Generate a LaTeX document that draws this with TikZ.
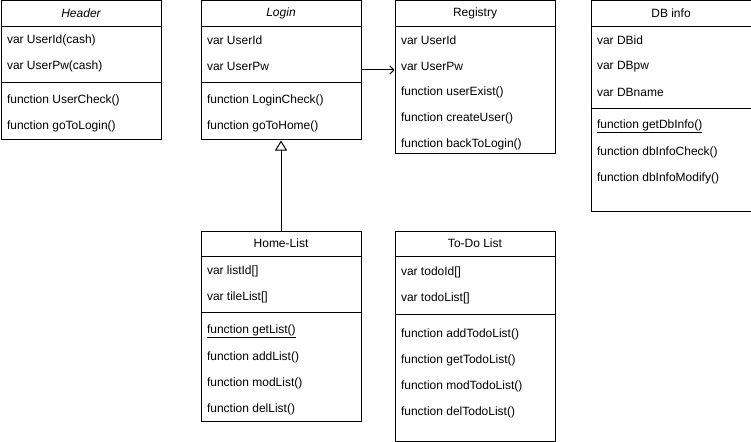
\documentclass[tikz,border=0pt]{standalone}
\usepackage{fontspec}
\setmainfont{Liberation Sans}
\usetikzlibrary{arrows.meta}
\usetikzlibrary{calc}

\tikzset{
  classbox/.style={draw, rectangle, anchor=north west, inner sep=0pt, minimum width=160pt},
  member/.style={anchor=west, inner sep=0pt},
  title/.style={inner sep=0pt}
}

\begin{document}
\begin{tikzpicture}[x=1pt,y=-1pt,line width=1pt,font=\fontsize{12}{14}\selectfont]
      \useasboundingbox (0,0) rectangle (751,441);

      % Header
      \node[classbox, minimum height=138pt] (header) at (0.5,0.5) {};
      \node[title] (headerT) at ($(header.north)+(0,13)$) {\itshape Header};
      \draw ($(header.north west)+(0,26)$) -- ($(header.north east)+(0,26)$);
      \draw ($(header.north west)+(0,82)$) -- ($(header.north east)+(0,82)$);
      \foreach \y/\t in {40/var UserId(cash),66/var UserPw(cash),100/function UserCheck(),126/function goToLogin()}
      {
        \node[member] (header\y) at ($(header.north west)+(6,\y)$) {\t};
      }

      % Login
      \node[classbox, minimum height=138pt] (login) at (200.5,0.5) {};
      \node[title] (loginT) at ($(login.north)+(0,13)$) {\itshape Login};
      \draw ($(login.north west)+(0,26)$) -- ($(login.north east)+(0,26)$);
      \draw ($(login.north west)+(0,82)$) -- ($(login.north east)+(0,82)$);
      \foreach \y/\t in {40/var UserId,66/var UserPw,100/function LoginCheck(),126/function goToHome()}
      {
        \node[member] (login\y) at ($(login.north west)+(6,\y)$) {\t};
      }

      % Registry
      \node[classbox, minimum height=152pt] (registry) at (394.5,0.5) {};
      \node[title] (registryT) at ($(registry.north)+(0,13)$) {Registry};
      \draw ($(registry.north west)+(0,26)$) -- ($(registry.north east)+(0,26)$);
      \foreach \y/\t in {40/var UserId,66/var UserPw,92/function userExist(),118/function createUser(),144/function backToLogin()}
      {
        \node[member] (registry\y) at ($(registry.north west)+(6,\y)$) {\t};
      }

      % DB info
      \node[classbox, minimum height=210pt] (dbinfo) at (590.5,0.5) {};
      \node[title] (dbinfoT) at ($(dbinfo.north)+(0,13)$) {DB info};
      \draw ($(dbinfo.north west)+(0,26)$) -- ($(dbinfo.north east)+(0,26)$);
      \draw ($(dbinfo.north west)+(0,108)$) -- ($(dbinfo.north east)+(0,108)$);
      \foreach \y/\t in {40/var DBid,66/var DBpw,92/var DBname,126/\underline{function getDbInfo()},152/function dbInfoCheck(),178/function dbInfoModify()}
      {
        \node[member] (dbinfo\y) at ($(dbinfo.north west)+(6,\y)$) {\t};
      }

      % Home-List
      \node[classbox, minimum height=190pt] (home) at (200.5,230.5) {};
      \node[title] (homeT) at ($(home.north)+(0,13)$) {Home-List};
      \draw ($(home.north west)+(0,26)$) -- ($(home.north east)+(0,26)$);
      \draw ($(home.north west)+(0,82)$) -- ($(home.north east)+(0,82)$);
      \foreach \y/\t in {41/var listId[],67/var tileList[],101/\underline{function getList()},127/function addList(),153/function modList(),179/function delList()}
      {
        \node[member] (home\y) at ($(home.north west)+(6,\y)$) {\t};
      }

      % To-Do List
      \node[classbox, minimum height=210pt] (todo) at (394.5,230.5) {};
      \node[title] (todoT) at ($(todo.north)+(0,13)$) {To-Do List};
      \draw ($(todo.north west)+(0,26)$) -- ($(todo.north east)+(0,26)$);
      \draw ($(todo.north west)+(0,84)$) -- ($(todo.north east)+(0,84)$);
      \foreach \y/\t in {42/var todoId[],68/var todoList[],104/function addTodoList(),130/function getTodoList(),156/function modTodoList(),182/function delTodoList()}
      {
        \node[member] (todo\y) at ($(todo.north west)+(6,\y)$) {\t};
      }

      % Connectors
      \draw[-{Straight Barb[length=4pt,width=8pt]}] (login.east) -- (login.east -| registry.west);
      \draw[-{Triangle[open,length=10pt,width=12pt]}, shorten >=1pt] (home.north) -- (login.south);
  \end{tikzpicture}
\end{document}
